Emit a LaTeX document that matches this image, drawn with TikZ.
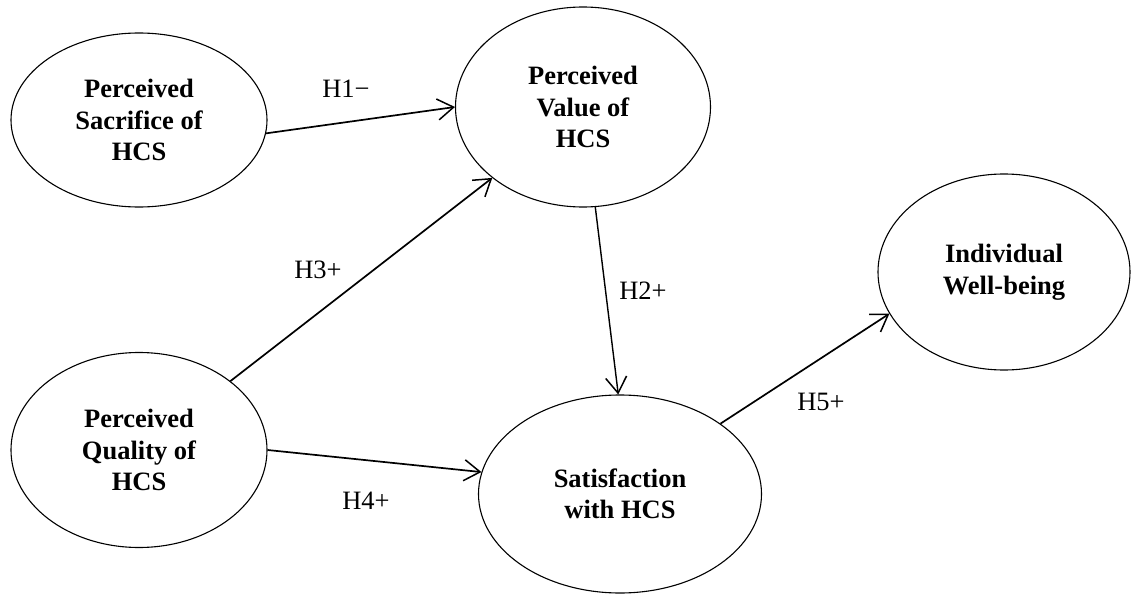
\documentclass[tikz,border=0pt]{standalone}
\usepackage{fontspec}
\setmainfont{Liberation Serif}
\usetikzlibrary{shapes.geometric,arrows.meta}
\begin{document}
\begin{tikzpicture}[x=1pt,y=-1pt,
  construct/.style={draw, line width=1.1pt, ellipse, inner sep=0pt, align=center,
    font=\fontsize{26.5}{31.5}\selectfont\bfseries},
  link/.style={line width=1.7pt, -{Straight Barb[length=16pt,width=21pt,line width=1.5pt]}},
  hyp/.style={font=\fontsize{26.5}{31}\selectfont, inner sep=0pt}]
\useasboundingbox (0,0) rectangle (1133,594);
\node[construct, minimum width=256pt, minimum height=174pt] (sac) at (139,120) {Perceived\\Sacrifice of\\HCS};
\node[construct, minimum width=255pt, minimum height=200pt] (val) at (583,107) {Perceived\\Value of\\HCS};
\node[construct, minimum width=256pt, minimum height=195pt] (qua) at (139,450) {Perceived\\Quality of\\HCS};
\node[construct, minimum width=283pt, minimum height=198pt] (sat) at (620,494) {Satisfaction\\with HCS};
\node[construct, minimum width=252pt, minimum height=196pt] (wb) at (1004,272) {Individual\\Well-being};
\draw[link] (sac.-6) -- (val.180);
\draw[link] (qua.37.6) -- (val.218.3);
\draw[link] (qua.0) -- (sat.171.6);
\draw[link, line width=1.4pt] (val.277.2) -- (sat.91.1);
\draw[link] (sat.35) -- (wb.200.9);
\node[hyp] (h1) at (346,89) {H1−};
\node[hyp] (h3) at (318,270) {H3+};
\node[hyp] (h2) at (643,291) {H2+};
\node[hyp] (h4) at (366,501) {H4+};
\node[hyp] (h5) at (821,402) {H5+};
\end{tikzpicture}
\end{document}
